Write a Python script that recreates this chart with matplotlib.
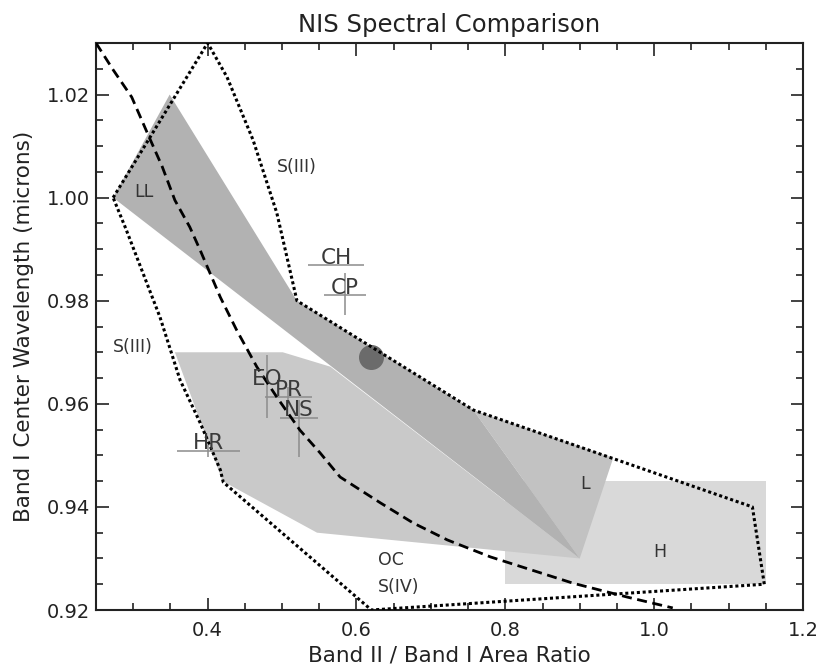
import matplotlib
matplotlib.use("Agg")
import matplotlib.pyplot as plt
from matplotlib.patches import Polygon, Rectangle
from matplotlib.ticker import MultipleLocator, FormatStrFormatter

# ---------------- data ----------------
# LL field (darker grey band)
ll_x = [0.273, 0.349, 0.520, 0.757, 0.900]
ll_y = [1.000, 1.020, 0.980, 0.9588, 0.930]
# lower field (light grey)
a_x = [0.356, 0.501, 0.565, 0.900, 0.547, 0.420]
a_y = [0.970, 0.970, 0.9672, 0.930, 0.935, 0.945]
# L field
l_x = [0.757, 0.945, 0.900]
l_y = [0.9588, 0.9495, 0.930]
# H field (rectangle)
h_x = [0.80, 1.15]
h_y = [0.925, 0.945]

# S-type boundary (dotted)
s_x = [0.273, 0.400, 0.426, 0.461, 0.493, 0.520, 0.757, 1.132, 1.148, 0.620,
       0.600, 0.421, 0.417, 0.390, 0.363, 0.336, 0.290, 0.273]
s_y = [1.000, 1.030, 1.0234, 1.0112, 0.997, 0.980, 0.9588, 0.940, 0.925, 0.920,
       0.9225, 0.9448, 0.9472, 0.9563, 0.9646, 0.9768, 0.994, 1.000]

# dashed curve
d_x = [0.250, 0.273, 0.298, 0.320, 0.339, 0.356, 0.376, 0.390, 0.417, 0.439,
       0.466, 0.493, 0.524, 0.551, 0.578, 0.632, 0.676, 0.722, 0.780, 0.891,
       0.964, 1.025]
d_y = [1.030, 1.0248, 1.0195, 1.0122, 1.006, 0.9995, 0.9943, 0.9898, 0.9807, 0.9743,
       0.9672, 0.9613, 0.9549, 0.9505, 0.9458, 0.9408, 0.9369, 0.9336, 0.9303, 0.9252,
       0.9225, 0.9204]

# measurements with error bars
lab = ["CH", "CP", "EO", "PR", "NS", "HR"]
cx = [0.5725, 0.5847, 0.480, 0.5085, 0.5225, 0.401]
cy = [0.9869, 0.9811, 0.9634, 0.9613, 0.9573, 0.9509]
xerr = [0.0375, 0.028, 0.0, 0.0315, 0.0255, 0.042]
yerr_lo = [0.0, 0.0039, 0.0061, 0.002, 0.0076, 0.0012]
yerr_hi = [0.0, 0.0043, 0.0061, 0.002, 0.0034, 0.0012]

# NIS point
pt_x = [0.6196]
pt_y = [0.9691]

# region labels
rl_text = ["LL", "S(III)", "S(III)", "L", "H", "OC", "S(IV)"]
rl_x = [0.3145, 0.520, 0.2997, 0.907, 1.008, 0.629, 0.629]
rl_y = [1.001, 1.006, 0.971, 0.9444, 0.9313, 0.9297, 0.9245]
rl_ha = ["center", "center", "center", "center", "center", "left", "left"]

# ---------------- figure ----------------
plt.rcParams["font.family"] = ["DejaVu Sans"]
fig = plt.figure(figsize=(8.17, 6.66), dpi=100)
ax = fig.add_axes([96 / 817, 56 / 666, 707 / 817, 567 / 666])

ax.add_patch(Rectangle((h_x[0], h_y[0]), h_x[1] - h_x[0], h_y[1] - h_y[0],
                       facecolor="#d9d9d9", edgecolor="none", zorder=1))
ax.add_patch(Polygon(list(zip(a_x, a_y)), closed=True, facecolor="#c9c9c9",
                     edgecolor="none", zorder=2))
ax.add_patch(Polygon(list(zip(l_x, l_y)), closed=True, facecolor="#c2c2c2",
                     edgecolor="none", zorder=3))
ax.add_patch(Polygon(list(zip(ll_x, ll_y)), closed=True, facecolor="#b2b2b2",
                     edgecolor="none", zorder=3))

ax.plot(pt_x, pt_y, "o", color="#6b6b6b", markersize=17, zorder=4)

ax.plot(s_x, s_y, color="black", lw=2.2, dashes=(1.0, 0.9), zorder=6,
        dash_capstyle="butt")
ax.plot(d_x, d_y, color="black", lw=2.0, dashes=(3.6, 2.0), zorder=6,
        dash_capstyle="butt")

for i in range(len(lab)):
    ax.errorbar(cx[i], cy[i], xerr=xerr[i],
                yerr=[[yerr_lo[i]], [yerr_hi[i]]],
                fmt="none", ecolor="#8c8c8c", elinewidth=1.1, capsize=0, zorder=5)
    ax.annotate(lab[i], (cx[i], cy[i]), xytext=(0, 1), textcoords="offset points",
                ha="center", va="baseline", fontsize=15.5, color="#3a3a3a", zorder=7)

for t, x, y, ha in zip(rl_text, rl_x, rl_y, rl_ha):
    ax.text(x, y, t, ha=ha, va="center", fontsize=12.5, color="#333333", zorder=7)

ax.set_xlim(0.25, 1.2)
ax.set_ylim(0.92, 1.03)
ax.xaxis.set_major_locator(MultipleLocator(0.2))
ax.xaxis.set_minor_locator(MultipleLocator(0.05))
ax.yaxis.set_major_locator(MultipleLocator(0.02))
ax.yaxis.set_minor_locator(MultipleLocator(0.005))
ax.xaxis.set_major_formatter(FormatStrFormatter("%.1f"))
ax.yaxis.set_major_formatter(FormatStrFormatter("%.2f"))
ax.tick_params(which="both", direction="in", top=True, right=True,
               width=1.2, color="#222222", labelsize=14, labelcolor="#222222")
ax.tick_params(which="major", length=9)
ax.tick_params(which="minor", length=5)
ax.tick_params(axis="x", pad=8)
ax.tick_params(axis="y", pad=4)
for sp in ax.spines.values():
    sp.set_linewidth(1.5)
    sp.set_color("#222222")

ax.set_title("NIS Spectral Comparison", fontsize=17.5, color="#222222", pad=8)
ax.set_xlabel("Band II / Band I Area Ratio", fontsize=15.5, color="#222222")
ax.set_ylabel("Band I Center Wavelength (microns)", fontsize=15.5, color="#222222")
ax.xaxis.set_label_coords(0.5, -0.062)
ax.yaxis.set_label_coords(-0.088, 0.5)

fig.savefig("out.png", dpi=100)
